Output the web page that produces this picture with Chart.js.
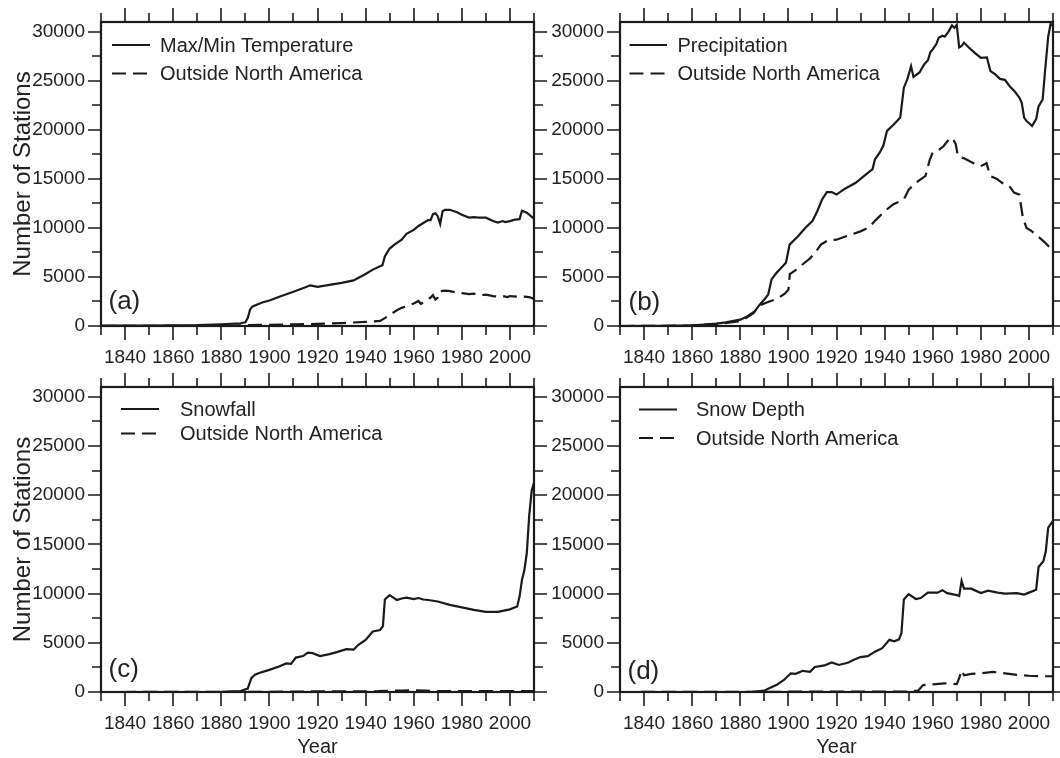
<!DOCTYPE html>
<html>
<head>
<meta charset="utf-8">
<script src="https://cdn.jsdelivr.net/npm/chart.js@4.4.1/dist/chart.umd.min.js"></script>
<style>
  html, body { margin: 0; padding: 0; background: #ffffff; }
  body { width: 1060px; height: 758px; overflow: hidden; position: relative; }
  .panel { position: absolute; }
</style>
</head>
<body>
<div class="panel" style="left:0px;top:0px;width:560px;height:372px"><canvas id="ca"></canvas></div>
<div class="panel" style="left:519px;top:0px;width:541px;height:372px"><canvas id="cb"></canvas></div>
<div class="panel" style="left:0px;top:372px;width:560px;height:386px"><canvas id="cc"></canvas></div>
<div class="panel" style="left:519px;top:372px;width:541px;height:386px"><canvas id="cd"></canvas></div>
<script>
// ---------------- DATA ----------------
const panelLabels = ['(a)', '(b)', '(c)', '(d)'];
const seriesNames = ['Max/Min Temperature', 'Precipitation', 'Snowfall', 'Snow Depth'];
const outsideName = 'Outside North America';
const yAxisTitle = 'Number of Stations';
const xAxisTitle = 'Year';
const xTickLabels = [1840, 1860, 1880, 1900, 1920, 1940, 1960, 1980, 2000];
const yTickLabels = [0, 5000, 10000, 15000, 20000, 25000, 30000];

// (a) Max/Min Temperature
const tempYears = [1830,1850,1870,1880,1888,1890,1891,1892,1893,1895,1897,1900,1905,1910,1915,1917,1920,1925,1930,1935,1940,1943,1946,1947,1948,1950,1952,1955,1957,1960,1962,1964,1966,1967,1968,1969,1970,1971,1972,1973,1975,1978,1980,1983,1985,1987,1990,1993,1995,1997,1998,2000,2002,2004,2005,2007,2010];
const tempValues = [30,50,100,180,280,380,800,1700,2000,2200,2400,2600,3050,3500,3950,4150,4000,4200,4400,4650,5300,5750,6100,6200,7100,7900,8300,8800,9400,9800,10200,10500,10800,10800,11400,11500,11200,10400,11700,11850,11850,11600,11350,11050,11100,11050,11050,10700,10550,10700,10600,10700,10850,10900,11750,11550,10950];
const tempOutYears = [1830,1880,1890,1900,1910,1920,1930,1940,1946,1948,1950,1953,1955,1958,1960,1962,1963,1965,1967,1968,1969,1970,1971,1973,1975,1978,1980,1983,1985,1988,1990,1993,1995,1997,1999,2000,2003,2005,2008,2010];
const tempOutValues = [0,30,80,120,170,220,300,420,520,800,1150,1600,1850,2100,2300,2550,2250,2600,2900,3150,2700,2900,3550,3600,3550,3400,3350,3250,3300,3150,3200,3050,3000,3050,2950,3050,3000,3000,2950,2750];

// (b) Precipitation
const precYears = [1830,1850,1860,1865,1870,1874,1880,1883,1886,1888,1890,1891.6,1893,1895,1899,1900.5,1904,1907,1910,1912,1914,1916,1918,1920,1923.5,1928,1931.5,1935,1936,1938,1939.5,1941,1944,1946.5,1948,1949.5,1951,1952,1954.5,1956.5,1958,1959,1960,1961.5,1962.5,1964,1965,1966.5,1968,1969,1970,1971,1972,1973,1975,1977.5,1980,1982.5,1984,1986,1988,1990,1992,1994,1996,1997,1998,1999,2000,2001.3,2003,2004,2005.7,2006.7,2008,2009,2010];
const precValues = [0,20,60,140,240,370,650,1000,1500,2150,2700,3200,4750,5400,6450,8300,9150,10000,10700,11700,12900,13650,13650,13400,14000,14600,15300,16000,17000,17700,18400,19900,20600,21250,24300,25200,26500,25400,25850,26700,27100,27900,28200,28750,29400,29600,29500,30000,30650,30400,30700,28400,28550,28900,28400,27850,27350,27400,26000,25650,25200,25100,24450,23950,23300,22750,21250,20900,20700,20400,21100,22400,23100,26000,29500,30800,30600];
const precOutYears = [1830,1860,1870,1875,1880,1883,1885.5,1887.7,1891,1895.5,1898.5,1900,1900.6,1903,1906.5,1909,1911.5,1913.5,1916.5,1920,1924,1930,1933.5,1936.5,1940,1943.5,1948,1950,1953,1957,1958.7,1960,1962.3,1964.4,1966.6,1968,1969.5,1970.5,1973,1977,1980,1982.4,1983.8,1986.7,1988.8,1991.7,1993.8,1996,1997.5,1999,2001,2003,2006.7,2010];
const precOutValues = [0,40,200,330,500,900,1300,2050,2400,2800,3300,3700,5300,5700,6400,6900,7600,8300,8750,8800,9150,9650,10050,10850,11700,12400,12900,13900,14600,15300,16900,17700,17900,18300,19000,19200,18600,17300,17100,16600,16300,16600,15300,15000,14600,14300,13600,13400,11000,10000,9700,9300,8500,7700];

// (c) Snowfall
const snowYears = [1830,1880,1888,1891,1892.5,1894,1896,1900,1904,1907,1909,1911,1914,1916,1918,1921,1925,1928,1932,1935,1937,1940,1943,1946,1947.2,1948,1950,1951.5,1953,1955,1957,1960,1962,1964,1966,1970,1975,1980,1985,1990,1995,2000,2003,2004,2005,2006,2007,2008,2009,2010];
const snowValues = [0,20,100,350,1400,1750,1950,2250,2600,2900,2850,3500,3650,4000,3950,3650,3850,4050,4350,4300,4800,5300,6150,6300,6700,9400,9850,9600,9350,9500,9600,9450,9550,9400,9350,9200,8850,8600,8350,8150,8150,8400,8700,9700,11400,12400,14100,17900,20400,21300];
const snowOutYears = [1830,1900,1910,1930,1945,1950,1955,1960,1965,1970,1980,1990,2000,2010];
const snowOutValues = [0,20,50,60,80,120,150,160,140,100,90,90,90,80];

// (d) Snow Depth
const depthYears = [1830,1885,1890,1892,1895,1898,1901,1903,1906,1909,1911,1915,1918,1921,1925,1927,1930,1933,1936,1939,1942,1944,1946,1947,1948,1950,1953,1955,1958,1962,1964,1966,1970,1971,1972,1973,1976,1980,1983,1987,1990,1995,1998,2000,2003,2004,2006,2007,2008,2010];
const depthValues = [0,20,140,370,700,1200,1900,1850,2150,2050,2550,2700,3000,2750,3000,3250,3550,3650,4100,4450,5300,5150,5350,6000,9400,9950,9450,9550,10100,10100,10350,10050,9850,9750,11300,10500,10500,10050,10300,10100,10000,10050,9900,10100,10400,12700,13300,14300,16700,17400];
const depthOutYears = [1830,1950,1954,1956,1960,1965,1970,1971,1972,1973,1976,1980,1985,1990,1995,2000,2005,2010];
const depthOutValues = [0,50,150,700,780,880,800,1400,2200,1700,1850,1900,2050,1900,1750,1650,1600,1600];

// ---------------- STYLE / LAYOUT ----------------
const FONT = '"Liberation Sans", Arial, Helvetica, sans-serif';
const INK = '#1a1a1a';
const TEXT = '#222222';
Chart.defaults.font.family = FONT;
Chart.defaults.color = TEXT;

const X_MIN = 1830, X_MAX = 2010, Y_MIN = 0, Y_MAX = 31000;

function pts(xs, ys) { return xs.map((x, i) => ({ x: x, y: ys[i] })); }

const frameAndLegend = {
  id: 'frameAndLegend',
  afterDraw(chart, args, o) {
    const { ctx, chartArea: ca, scales } = chart;
    const sx = scales.x, sy = scales.y;
    ctx.save();
    // ticks on all four sides (outward): majors at labelled values, minors halfway
    ctx.strokeStyle = INK;
    ctx.lineWidth = 1.6;
    ctx.beginPath();
    for (let v = X_MIN; v <= X_MAX; v += 10) {
      const px = Math.round(sx.getPixelForValue(v));
      const len = (xTickLabels.indexOf(v) >= 0) ? 14 : 9;
      ctx.moveTo(px, ca.bottom); ctx.lineTo(px, ca.bottom + len);
      ctx.moveTo(px, ca.top); ctx.lineTo(px, ca.top - len);
    }
    for (let v = 0; v <= 30000; v += 2500) {
      const py = Math.round(sy.getPixelForValue(v));
      const len = (yTickLabels.indexOf(v) >= 0) ? 13 : 9;
      ctx.moveTo(ca.left, py); ctx.lineTo(ca.left - len, py);
      ctx.moveTo(ca.right, py); ctx.lineTo(ca.right + len, py);
    }
    ctx.stroke();
    // frame
    ctx.lineWidth = 2.2;
    ctx.strokeRect(ca.left, ca.top, ca.right - ca.left, ca.bottom - ca.top);
    // legend
    ctx.font = '20px ' + FONT;
    ctx.fillStyle = TEXT;
    ctx.textBaseline = 'middle';
    ctx.textAlign = 'left';
    chart.data.datasets.forEach((ds, i) => {
      const y = ca.top + o.rows[i];
      ctx.save();
      ctx.strokeStyle = INK;
      ctx.lineWidth = 2.2;
      ctx.setLineDash(ds.borderDash || []);
      ctx.beginPath();
      ctx.moveTo(ca.left + o.lx0, y);
      ctx.lineTo(ca.left + o.lx1, y);
      ctx.stroke();
      ctx.restore();
      ctx.fillText(ds.label, ca.left + o.tx, y + 1);
    });
    // panel label
    ctx.font = '26px ' + FONT;
    ctx.fillText(o.panel, ca.left + o.px, ca.bottom - o.py);
    ctx.restore();
  }
};

function makePanel(canvasId, idx, solid, out, lay) {
  const datasets = [
    { label: seriesNames[idx], data: solid, borderColor: INK, borderWidth: 2.2, borderDash: [],
      pointRadius: 0, tension: 0, fill: false },
    { label: outsideName, data: out, borderColor: INK, borderWidth: 2.2, borderDash: [14, 7],
      pointRadius: 0, tension: 0, fill: false }
  ];
  return new Chart(document.getElementById(canvasId), {
    type: 'line',
    data: { datasets: datasets },
    options: {
      responsive: true,
      maintainAspectRatio: false,
      animation: false,
      devicePixelRatio: 1,
      layout: { padding: { top: lay.padTop, right: lay.padRight, left: 0, bottom: 0 } },
      plugins: {
        legend: { display: false },
        tooltip: { enabled: false },
        frameAndLegend: {
          panel: panelLabels[idx],
          rows: lay.rows, lx0: lay.lx0, lx1: lay.lx1, tx: lay.tx,
          px: lay.px, py: lay.py
        }
      },
      scales: {
        x: {
          type: 'linear', min: X_MIN, max: X_MAX,
          grid: { display: false, drawTicks: true, tickLength: 20 },
          border: { display: false },
          afterBuildTicks: (s) => { s.ticks = xTickLabels.map((v) => ({ value: v })); },
          ticks: {
            autoSkip: false, maxRotation: 0, minRotation: 0,
            padding: 0, color: TEXT, font: { size: 19 },
            callback: (v) => String(v)
          },
          title: {
            display: lay.xTitle, text: xAxisTitle, color: TEXT,
            font: { size: 20, lineHeight: 1 }, padding: { top: 1, bottom: 1 }
          },
          afterFit: (s) => { s.height = lay.xHeight; }
        },
        y: {
          type: 'linear', min: Y_MIN, max: Y_MAX,
          grid: { display: false, drawTicks: true, tickLength: 16 },
          border: { display: false },
          afterBuildTicks: (s) => { s.ticks = yTickLabels.map((v) => ({ value: v })); },
          ticks: {
            autoSkip: false, padding: 0, color: TEXT, font: { size: 19 },
            callback: (v) => String(v)
          },
          title: {
            display: lay.yTitle, text: yAxisTitle, color: TEXT,
            font: { size: 24, lineHeight: 1 }, padding: { top: 11, bottom: 11 }
          },
          afterFit: (s) => { s.width = 101; }
        }
      }
    },
    plugins: [frameAndLegend]
  });
}

makePanel('ca', 0, pts(tempYears, tempValues), pts(tempOutYears, tempOutValues),
  { padTop: 22, padRight: 26, xHeight: 46, xTitle: false, yTitle: true,
    rows: [23, 51.5], lx0: 11, lx1: 49, tx: 59, px: 7.5, py: 24 });
makePanel('cb', 1, pts(precYears, precValues), pts(precOutYears, precOutValues),
  { padTop: 22, padRight: 7, xHeight: 46, xTitle: false, yTitle: false,
    rows: [23, 51.5], lx0: 9.5, lx1: 47, tx: 57.5, px: 8.5, py: 23 });
makePanel('cc', 2, pts(snowYears, snowValues), pts(snowOutYears, snowOutValues),
  { padTop: 15, padRight: 26, xHeight: 66, xTitle: true, yTitle: true,
    rows: [22, 46.5], lx0: 20, lx1: 58, tx: 79, px: 7.5, py: 22 });
makePanel('cd', 3, pts(depthYears, depthValues), pts(depthOutYears, depthOutValues),
  { padTop: 15, padRight: 7, xHeight: 66, xTitle: true, yTitle: false,
    rows: [22.5, 51], lx0: 19, lx1: 57, tx: 76, px: 7.5, py: 20.5 });
</script>
</body>
</html>
